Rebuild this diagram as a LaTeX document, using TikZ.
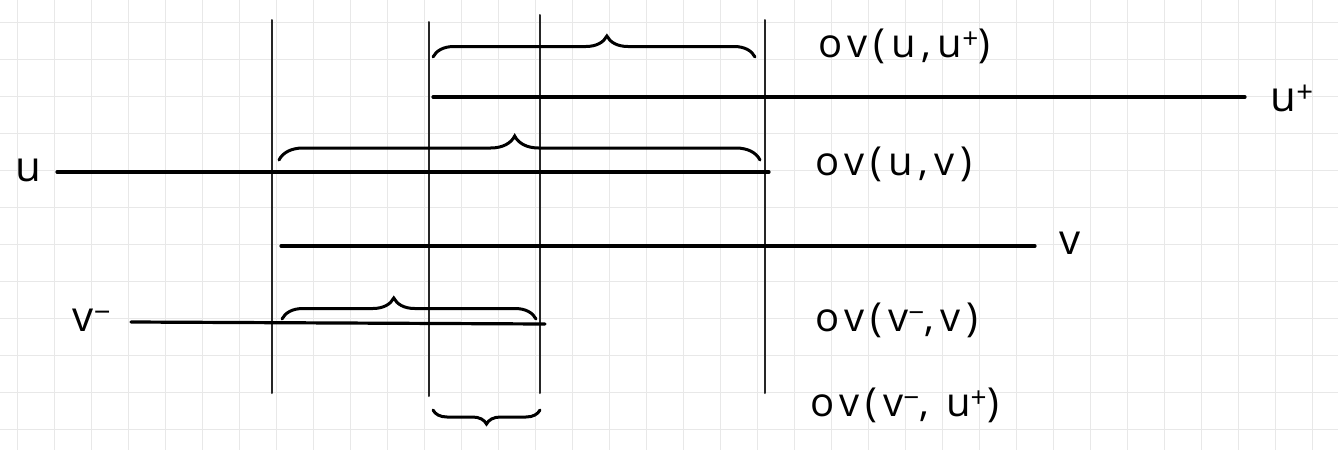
\documentclass[tikz,border=0pt]{standalone}
\usepackage{fontspec}
\setmainfont{Open Sans}
\usetikzlibrary{decorations.pathreplacing}
\begin{document}
\begin{tikzpicture}[x=1pt,y=-1pt,
  seg/.style={line width=3.2pt, line cap=round},
  vline/.style={line width=2pt, black!85, line cap=round},
  brc/.style={line width=3pt, line cap=round, decorate, decoration={brace, amplitude=#1}},
  lab/.style={font=\fontsize{40}{44}\selectfont\addfontfeature{LetterSpace=15}, anchor=west, inner sep=0pt},
  seglab/.style={font=\fontsize{42}{46}\selectfont, inner sep=0pt},
  gridline/.style={line width=0.8pt, black!9}]
\fill[white] (0,0) rectangle (1338,450);
\useasboundingbox (0,0) rectangle (1338,450);
\foreach \gx in {17,54,...,1338} \draw[gridline] (\gx,0) -- (\gx,450);
\foreach \gy in {22,59,...,450} \draw[gridline] (0,\gy) -- (1338,\gy);

% vertical guide lines
\coordinate (a1) at (272,20);  \coordinate (b1) at (272,393);
\coordinate (a2) at (429,22);  \coordinate (b2) at (429,396);
\coordinate (a3) at (540,15);  \coordinate (b3) at (540,393);
\coordinate (a4) at (765,20);  \coordinate (b4) at (765,393);
\draw[vline] (a1) -- (b1);
\draw[vline] (a2) -- (b2);
\draw[vline] (a3) -- (b3);
\draw[vline] (a4) -- (b4);

% segments
\node[seglab] (uplus) at (1292,98) {u\textsuperscript{+}};
\coordinate (up0) at (433,97); \coordinate (up1) at (1245,97);
\draw[seg] (up0) -- (up1);

\node[seglab] (ulab) at (28,170) {u};
\coordinate (u0) at (57,172); \coordinate (u1) at (769,172);
\draw[seg] (u0) -- (u1);

\node[seglab] (vlab) at (1070,243) {v};
\coordinate (v0) at (281,246); \coordinate (v1) at (1035,246);
\draw[seg] (v0) -- (v1);

\node[seglab] (vmlab) at (92,320) {v\textsuperscript{−}};
\coordinate (vm0) at (131,322); \coordinate (vm1) at (545,324);
\draw[seg] (vm0) -- (vm1);

% braces
\coordinate (p0) at (433,57); \coordinate (p1) at (755,57);
\draw[brc=21pt, decoration={aspect=0.54}] (p0) -- (p1);
\coordinate (q0) at (279,160); \coordinate (q1) at (760,160);
\draw[brc=24pt, decoration={aspect=0.49}] (q0) -- (q1);
\coordinate (r0) at (282,319); \coordinate (r1) at (536,319);
\draw[brc=21pt, decoration={aspect=0.44}] (r0) -- (r1);
\coordinate (s0) at (433,410); \coordinate (s1) at (540,410);
\draw[brc=14pt, decoration={mirror}] (s0) -- (s1);

% labels
\node[lab] (l1) at (818,46) {ov(u,u\textsuperscript{+})};
\node[lab] (l2) at (815,164) {ov(u,v)};
\node[lab] (l3) at (815,320) {ov(v\textsuperscript{−},v)};
\node[lab] (l4) at (810,405) {ov(v\textsuperscript{−}, u\textsuperscript{+})};
\end{tikzpicture}
\end{document}
